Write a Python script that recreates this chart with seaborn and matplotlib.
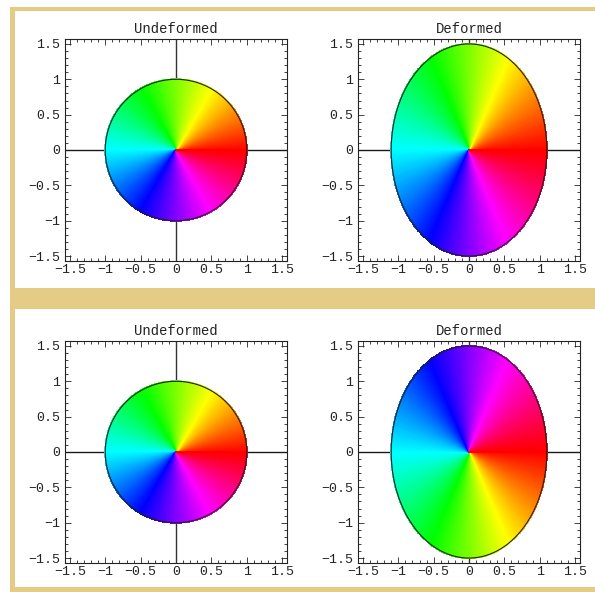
import numpy as np
import pandas as pd
import matplotlib
matplotlib.use("Agg")
import matplotlib.pyplot as plt
from matplotlib.colors import hsv_to_rgb, ListedColormap
from matplotlib.patches import Rectangle
from matplotlib.ticker import MultipleLocator
import seaborn as sns

# Panels in reading order (top-left, top-right, bottom-left, bottom-right)
panel_titles = ["Undeformed", "Deformed", "Undeformed", "Deformed"]
# Diagonal entries of the deformation gradient applied to the unit disk
stretch_x = [1.0, 1.1, 1.0, 1.1]
stretch_y = [1.0, 1.5, 1.0, -1.5]

major_ticks = [-1.5, -1.0, -0.5, 0.0, 0.5, 1.0, 1.5]
tick_labels = ["\u22121.5", "\u22121", "\u22120.5", "0", "0.5", "1", "1.5"]
axis_limit = 1.57
minor_step = 0.1

sns.set_style("ticks")
plt.rcParams["font.family"] = ["Liberation Mono", "DejaVu Sans Mono"]

W, H = 595, 592
fig = plt.figure(figsize=(W / 100, H / 100), dpi=100, facecolor="white")

# tan frame around the two rows
tan = "#E4CB86"
frame_px = [
    (10, 7, 5, 585),     # left border (x, y_top, w, h)
    (10, 7, 585, 4),     # top border
    (10, 288, 585, 21),  # band between rows
    (10, 587, 585, 5),   # bottom border
]
for x, y, w, h in frame_px:
    fig.add_artist(Rectangle((x / W, 1 - (y + h) / H), w / W, h / H,
                             transform=fig.transFigure, color=tan, zorder=0, lw=0))

# axes boxes in pixels: (left, top, size)
boxes = [(65, 39), (358, 39), (65, 341), (358, 341)]
size = 222

# angular colour wheel: hue follows the polar angle of the reference point
n_sectors = 720
theta_edges = np.linspace(0, 2 * np.pi, n_sectors + 1)
hues = (np.arange(n_sectors) + 0.5) / n_sectors
wheel = ListedColormap(hsv_to_rgb(np.column_stack([hues, np.ones(n_sectors), np.ones(n_sectors)])))
R, T = np.meshgrid(np.array([0.0, 1.0]), theta_edges, indexing="ij")
t_line = np.linspace(0, 2 * np.pi, 721)

for (left, top), title, sx, sy in zip(boxes, panel_titles, stretch_x, stretch_y):
    ax = fig.add_axes([left / W, 1 - (top + size) / H, size / W, size / H])
    ax.set_facecolor("white")

    # coordinate axes through the origin
    ax.axhline(0, color="#1a1a1a", lw=1.0, zorder=1)
    ax.axvline(0, color="#333333", lw=1.0, zorder=1)

    X = sx * R * np.cos(T)
    Y = sy * R * np.sin(T)
    ax.pcolormesh(X, Y, np.arange(n_sectors)[None, :], cmap=wheel,
                  vmin=-0.5, vmax=n_sectors - 0.5, shading="flat",
                  edgecolor="face", linewidth=0.3, zorder=2)

    outline = pd.DataFrame({"x": sx * np.cos(t_line), "y": sy * np.sin(t_line)})
    sns.lineplot(data=outline, x="x", y="y", sort=False, estimator=None,
                 color="#202020", lw=0.8, ax=ax, zorder=3)

    ax.set_xlim(-axis_limit, axis_limit)
    ax.set_ylim(-axis_limit, axis_limit)
    ax.set_aspect("equal")
    ax.set_xticks(major_ticks, tick_labels)
    ax.set_yticks(major_ticks, tick_labels)
    ax.xaxis.set_minor_locator(MultipleLocator(minor_step))
    ax.yaxis.set_minor_locator(MultipleLocator(minor_step))
    ax.tick_params(which="both", direction="in", top=True, right=True,
                   width=0.6, color="#222222", labelsize=9.5, labelcolor="#222222")
    ax.tick_params(which="major", length=4)
    ax.tick_params(which="minor", length=2)
    ax.tick_params(axis="x", pad=2)
    ax.tick_params(axis="y", pad=3.5)
    ax.set_xlabel("")
    ax.set_ylabel("")
    for sp in ax.spines.values():
        sp.set_color("#222222")
        sp.set_linewidth(0.8)
    ax.set_title(title, fontsize=10, color="#222222", pad=4)

fig.savefig("out.png", dpi=100, facecolor="white")
